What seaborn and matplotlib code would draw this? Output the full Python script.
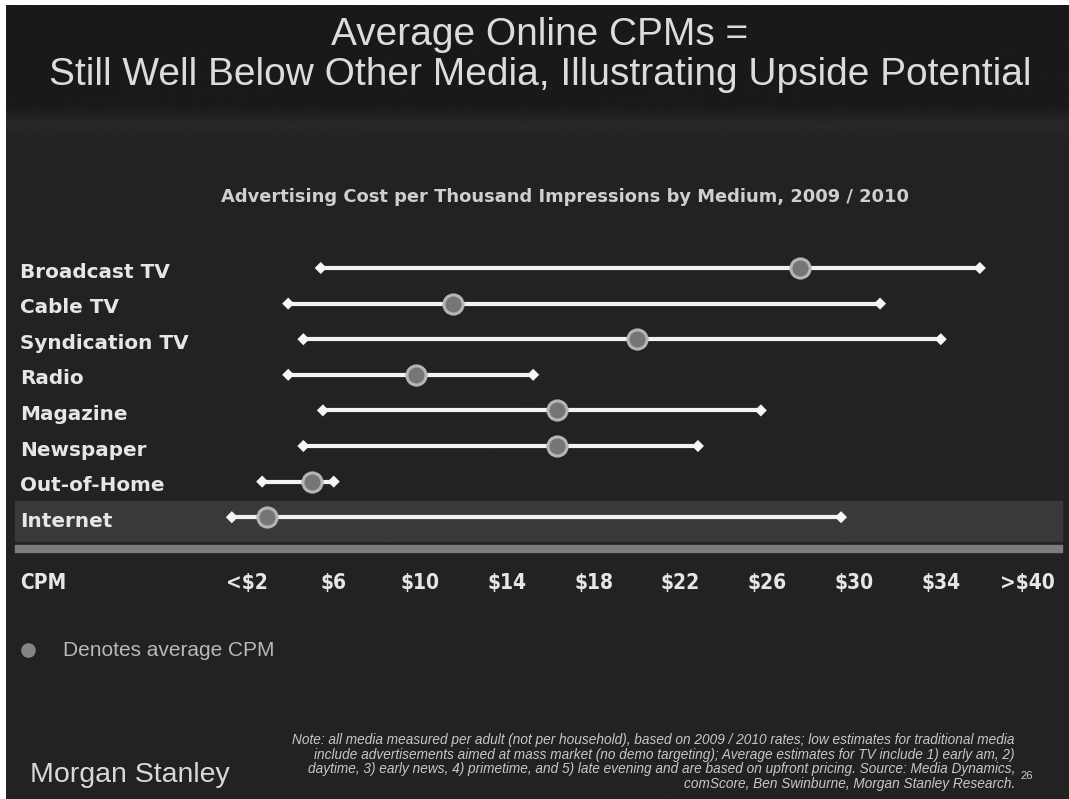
import numpy as np
import pandas as pd
import matplotlib
matplotlib.use("Agg")
import matplotlib.pyplot as plt
from matplotlib.patches import Rectangle
import seaborn as sns

# CPM ranges by medium, 2009 / 2010 (US$ per thousand impressions)
media = ["Broadcast TV", "Cable TV", "Syndication TV", "Radio", "Magazine",
         "Newspaper", "Out-of-Home", "Internet"]
cpm_low = [5.4, 3.9, 4.6, 3.9, 5.5, 4.6, 2.7, 1.3]
cpm_avg = [27.5, 11.5, 20.0, 9.8, 16.3, 16.3, 5.0, 2.9]
cpm_high = [35.8, 31.2, 34.0, 15.2, 25.7, 22.8, 6.0, 29.4]

tick_values = [2, 6, 10, 14, 18, 22, 26, 30, 34, 38]
tick_labels = ["<\\$2", "\\$6", "\\$10", "\\$14", "\\$18", "\\$22", "\\$26",
               "\\$30", "\\$34", ">\\$40"]

W, H = 1069, 799
sns.set_theme(style="dark")
plt.rcParams["font.family"] = ["DejaVu Sans"]

fig = plt.figure(figsize=(W / 100, H / 100), dpi=100, facecolor="white")

# background layer in pixel coordinates
bg = fig.add_axes([0, 0, 1, 1])
bg.set_xlim(0, W)
bg.set_ylim(H, 0)
bg.axis("off")

grad = np.concatenate([np.full(100, 0.10), np.linspace(0.10, 0.155, 20),
                       np.linspace(0.155, 0.135, 20), np.full(H - 140, 0.135)])
bg.imshow(np.tile(grad[:, None], (1, 2)), cmap="gray", vmin=0, vmax=1,
          extent=(6, W, H, 5), aspect="auto", interpolation="bilinear", zorder=0)

# highlighted Internet row and separator rule
bg.add_patch(Rectangle((15, 501), 1047, 40, color="#393939", zorder=1))
bg.add_patch(Rectangle((15, 545), 1047, 7, color="#7c7c7c", zorder=1))

title_font = ["Liberation Sans", "DejaVu Sans"]
bg.text(540, 35, "Average Online CPMs =", ha="center", va="center",
        fontsize=28, color="#dcdcdc", family=title_font)
bg.text(540, 75, "Still Well Below Other Media, Illustrating Upside Potential",
        ha="center", va="center", fontsize=28, color="#dcdcdc", family=title_font)
bg.text(565, 197, "Advertising Cost per Thousand Impressions by Medium, 2009 / 2010",
        ha="center", va="center", fontsize=12.9, fontweight="bold", color="#cfcfcf")

# chart layer: x in CPM dollars, y shares the pixel frame
x_per_dollar = 21.68
x0_pix = 247
ax = fig.add_axes([0, 0, 1, 1])
ax.patch.set_alpha(0)
ax.set_xlim(2 - x0_pix / x_per_dollar, 2 + (W - x0_pix) / x_per_dollar)
ax.set_ylim(H, 0)
ax.axis("off")

row_y = [268 + 35.6 * i for i in range(len(media))]

ranges = pd.DataFrame({
    "medium": media * 2,
    "cpm": cpm_low + cpm_high,
    "row": row_y * 2,
})
avg_df = pd.DataFrame({"medium": media, "cpm": cpm_avg, "row": row_y})

sns.lineplot(data=ranges, x="cpm", y="row", units="medium", estimator=None,
             sort=False, color="#f2f2f2", linewidth=3, ax=ax, zorder=3,
             legend=False)
sns.scatterplot(data=ranges, x="cpm", y="row", color="#f5f5f5", s=38,
                marker="D", edgecolor="none", ax=ax, zorder=4, legend=False)
sns.scatterplot(data=avg_df, x="cpm", y="row", color="#767676", s=190,
                edgecolor="#b5b5b5", linewidth=2.2, ax=ax, zorder=5, legend=False)

for name, y in zip(media, row_y):
    bg.text(20, y + 4, name, ha="left", va="center", fontsize=14.4,
            fontweight="bold", color="#e6e6e6", zorder=6)

# CPM scale labels
tick_kw = dict(va="center", fontsize=15, fontweight="bold", color="#e6e6e6",
               fontstretch="condensed", zorder=6)
bg.text(20, 583, "CPM", ha="left", **tick_kw)
for v, lab in zip(tick_values, tick_labels):
    ax.text(v, 583, lab, ha="center", **tick_kw)

# legend for the average marker
bg.scatter([28], [650], s=90, color="#858585", zorder=6)
bg.text(63, 651, "Denotes average CPM", ha="left", va="center", fontsize=15,
        color="#b8b8b8", family=title_font, zorder=6)

note = ("Note: all media measured per adult (not per household), based on 2009 / 2010 rates; low estimates for traditional media\n"
        "include advertisements aimed at mass market (no demo targeting); Average estimates for TV include 1) early am, 2)\n"
        "daytime, 3) early news, 4) primetime, and 5) late evening and are based on upfront pricing. Source: Media Dynamics,\n"
        "comScore, Ben Swinburne, Morgan Stanley Research.")
bg.text(1015, 762, note, ha="right", va="center", multialignment="right",
        fontsize=9.8, style="italic", color="#c8c8c8", family=title_font,
        linespacing=1.08, zorder=6)
bg.text(1020, 776, "26", ha="left", va="center", fontsize=8, color="#c8c8c8",
        family=title_font, zorder=6)
bg.text(30, 775, "Morgan Stanley", ha="left", va="center", fontsize=20.5,
        color="#d8d8d8", family=title_font, zorder=6)

fig.savefig("out.png", dpi=100, facecolor="white")
